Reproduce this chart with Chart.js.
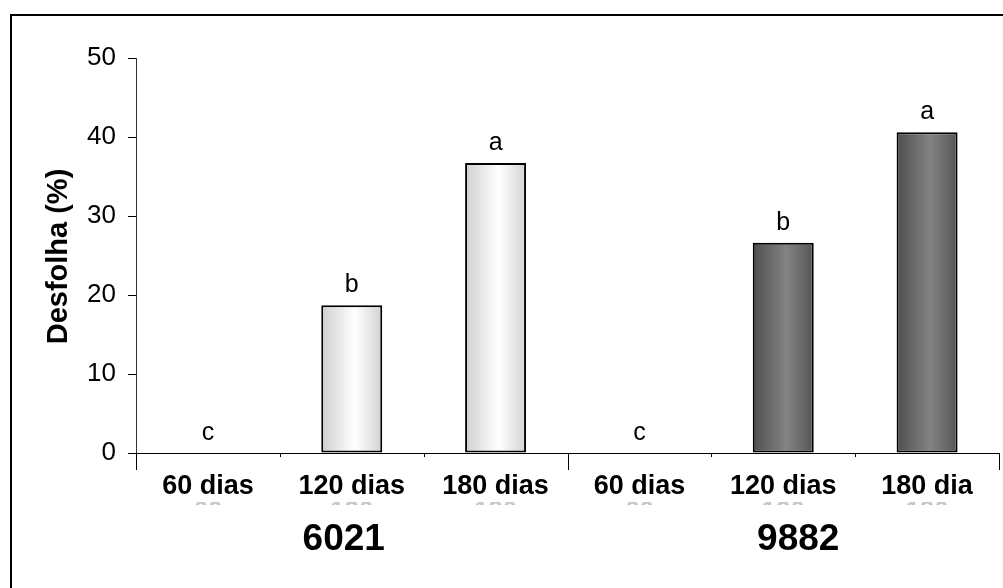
<!DOCTYPE html>
<html>
<head>
<meta charset="utf-8">
<script src="https://cdn.jsdelivr.net/npm/chart.js@4/dist/chart.umd.min.js"></script>
<style>
  html, body { margin: 0; padding: 0; background: #fff; }
  #chart { display: block; }
</style>
</head>
<body>
<canvas id="chart" width="1003" height="588"></canvas>
<script>
var categories = ["60 dias", "120 dias", "180 dias", "60 dias", "120 dias", "180 dia"];
var ghostLabels = ["60", "120", "180", "60", "120", "180"];
var desfolha = [0, 18.7, 36.7, 0, 26.6, 40.6];
var letters = ["c", "b", "a", "c", "b", "a"];
var groups = ["6021", "9882"];
var yTitle = "Desfolha (%)";
var yMin = 0, yMax = 50, yStep = 10;

var FONT = "'Liberation Sans', Arial, sans-serif";

function barGradient(ctx) {
  var chart = ctx.chart;
  var xs = chart.scales.x;
  if (!chart.chartArea || !xs) return "#ddd";
  var cx = xs.getPixelForValue(ctx.dataIndex);
  var half = xs.width / categories.length * 0.424 / 2;
  var g = chart.ctx.createLinearGradient(cx - half, 0, cx + half, 0);
  if (ctx.dataIndex < 3) {
    g.addColorStop(0, "#cfcfcf");
    g.addColorStop(0.55, "#ffffff");
    g.addColorStop(1, "#d2d2d2");
  } else {
    g.addColorStop(0, "#4e4e4e");
    g.addColorStop(0.55, "#838383");
    g.addColorStop(1, "#555555");
  }
  return g;
}

var extras = {
  id: "extras",
  beforeDraw: function (chart) {
    var c = chart.ctx;
    c.save();
    c.fillStyle = "#fff";
    c.fillRect(0, 0, chart.width, chart.height);
    c.strokeStyle = "#000";
    c.lineWidth = 2;
    c.strokeRect(11, 15, 1200, 800);
    c.restore();
  },
  afterDraw: function (chart) {
    var c = chart.ctx;
    var xs = chart.scales.x;
    var ys = chart.scales.y;
    var y0 = ys.getPixelForValue(0);
    var catW = xs.width / categories.length;
    c.save();

    // category separators
    c.strokeStyle = "#000";
    c.lineWidth = 1;
    for (var i = 0; i <= categories.length; i++) {
      var x = Math.round(xs.left + i * catW) + 0.5;
      var len = (i % 3 === 0) ? 17 : 4;
      c.beginPath();
      c.moveTo(x, y0);
      c.lineTo(x, y0 + len);
      c.stroke();
    }

    // letters above bars
    var meta = chart.getDatasetMeta(0);
    c.fillStyle = "#000";
    c.font = "25px " + FONT;
    c.textAlign = "center";
    c.textBaseline = "alphabetic";
    meta.data.forEach(function (bar, i) {
      c.fillText(letters[i], bar.x, bar.y - 13);
    });

    // faint clipped labels under categories
    c.save();
    c.beginPath();
    c.rect(xs.left, y0 + 49, xs.width, 3);
    c.clip();
    c.fillStyle = "#c8c8c8";
    c.font = "bold 26px " + FONT;
    c.textBaseline = "top";
    ghostLabels.forEach(function (t, i) {
      c.fillText(t, xs.getPixelForValue(i), y0 + 46);
    });
    c.restore();

    // group labels
    c.fillStyle = "#000";
    c.font = "bold 37px " + FONT;
    c.textBaseline = "middle";
    c.fillText(groups[0], xs.getPixelForValue(1) - 8, y0 + 87);
    c.fillText(groups[1], xs.getPixelForValue(4) + 15, y0 + 87);

    // y axis title
    c.save();
    c.translate(59, (ys.top + ys.bottom) / 2 + 1);
    c.rotate(-Math.PI / 2);
    c.font = "bold 29px " + FONT;
    c.textBaseline = "middle";
    c.fillText(yTitle, 0, 0);
    c.restore();
    c.restore();
  }
};

new Chart(document.getElementById("chart"), {
  type: "bar",
  data: {
    labels: categories,
    datasets: [{
      data: desfolha,
      backgroundColor: barGradient,
      borderColor: "#000",
      borderWidth: 2,
      borderSkipped: false,
      categoryPercentage: 1,
      barPercentage: 0.424
    }]
  },
  options: {
    responsive: false,
    animation: false,
    devicePixelRatio: 1,
    layout: { padding: { top: 58, right: 4, left: 0, bottom: 0 } },
    plugins: {
      legend: { display: false },
      tooltip: { enabled: false }
    },
    scales: {
      x: {
        grid: { display: false, drawTicks: false },
        border: { display: true, color: "#000", width: 1 },
        ticks: {
          color: "#000",
          font: { family: FONT, size: 27, weight: "bold" },
          padding: 17,
          maxRotation: 0,
          autoSkip: false
        },
        afterFit: function (s) { s.height = 135; }
      },
      y: {
        min: yMin,
        max: yMax,
        grid: {
          drawOnChartArea: false,
          drawTicks: true,
          tickLength: 8,
          color: "#000"
        },
        border: { display: true, color: "#333", width: 1 },
        ticks: {
          stepSize: yStep,
          color: "#000",
          font: { family: FONT, size: 26 },
          padding: 12
        },
        afterFit: function (s) { s.width = 136; }
      }
    }
  },
  plugins: [extras]
});
</script>
</body>
</html>
